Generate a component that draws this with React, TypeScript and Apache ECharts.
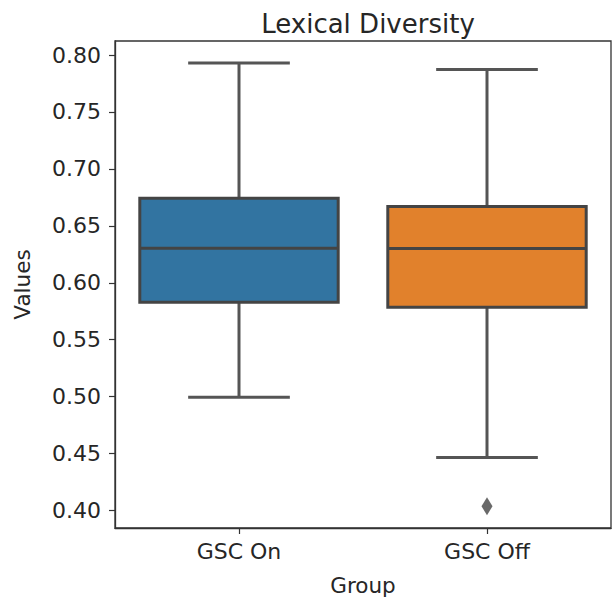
import React, { useEffect, useRef } from "react";
import * as echarts from "echarts";

const categories = ["GSC On", "GSC Off"];
// [whiskerLow, q1, median, q3, whiskerHigh]
const boxStats = [
  [0.4996, 0.5829, 0.6303, 0.6743, 0.793],
  [0.4466, 0.5785, 0.63, 0.6669, 0.7872],
];
const outliers = [["GSC Off", 0.4038]];
const yTicks = [0.4, 0.45, 0.5, 0.55, 0.6, 0.65, 0.7, 0.75, 0.8];
const boxColors = ["#3274a1", "#e1812c"];

const LINE = "#555555";
const FONT = "DejaVu Sans";

export default function App() {
  const ref = useRef<HTMLDivElement>(null);
  useEffect(() => {
    if (!ref.current) return;
    const chart = echarts.init(ref.current, undefined, { renderer: "svg" });
    chart.setOption({
      animation: false,
      title: {
        text: "Lexical Diversity",
        left: 363,
        top: 6,
        textAlign: "center",
        textStyle: { fontFamily: FONT, fontSize: 26, fontWeight: "normal", color: "#262626" },
      },
      grid: {
        left: 115,
        top: 41,
        right: 2,
        bottom: 73,
        show: true,
        borderColor: "#333",
        borderWidth: 1.3,
        backgroundColor: "transparent",
      },
      xAxis: {
        type: "category",
        data: categories,
        boundaryGap: true,
        name: "Group",
        nameLocation: "middle",
        nameGap: 46,
        nameTextStyle: { fontFamily: FONT, fontSize: 21.5, color: "#262626" },
        axisLine: { show: true, lineStyle: { color: "#333", width: 1.3 } },
        axisTick: { show: true, alignWithLabel: true, length: 6, lineStyle: { color: "#333", width: 1.2 } },
        axisLabel: { fontFamily: FONT, fontSize: 22, color: "#262626", margin: 12 },
        splitLine: { show: false },
      },
      yAxis: {
        type: "value",
        min: 0.3847,
        max: 0.8123,
        name: "Values",
        nameLocation: "middle",
        nameGap: 82,
        nameRotate: 90,
        nameTextStyle: { fontFamily: FONT, fontSize: 21.5, color: "#262626" },
        axisLine: { show: true, lineStyle: { color: "#333", width: 1.3 } },
        axisTick: { show: true, length: 6, customValues: yTicks, lineStyle: { color: "#333", width: 1.2 } },
        axisLabel: {
          fontFamily: FONT,
          fontSize: 22,
          color: "#262626",
          margin: 14,
          customValues: yTicks,
          formatter: (v: number) => v.toFixed(2),
        },
        splitLine: { show: false },
      },
      series: [
        {
          type: "custom",
          data: boxStats.map((s, i) => [i, ...s]),
          renderItem: (params: any, api: any) => {
            const idx = api.value(0);
            const band = api.size([1, 0])[0];
            const boxW = band * 0.8;
            const capW = band * 0.41;
            const pLow = api.coord([idx, api.value(1)]);
            const pQ1 = api.coord([idx, api.value(2)]);
            const pMed = api.coord([idx, api.value(3)]);
            const pQ3 = api.coord([idx, api.value(4)]);
            const pHigh = api.coord([idx, api.value(5)]);
            const cx = pMed[0];
            const ls = { stroke: LINE, lineWidth: 3 };
            return {
              type: "group",
              children: [
                { type: "line", shape: { x1: cx, y1: pQ3[1], x2: cx, y2: pHigh[1] }, style: ls },
                { type: "line", shape: { x1: cx, y1: pQ1[1], x2: cx, y2: pLow[1] }, style: ls },
                { type: "line", shape: { x1: cx - capW / 2, y1: pHigh[1], x2: cx + capW / 2, y2: pHigh[1] }, style: ls },
                { type: "line", shape: { x1: cx - capW / 2, y1: pLow[1], x2: cx + capW / 2, y2: pLow[1] }, style: ls },
                {
                  type: "rect",
                  shape: { x: cx - boxW / 2, y: pQ3[1], width: boxW, height: pQ1[1] - pQ3[1] },
                  style: { fill: boxColors[idx], stroke: "#444", lineWidth: 3 },
                },
                { type: "line", shape: { x1: cx - boxW / 2, y1: pMed[1], x2: cx + boxW / 2, y2: pMed[1] }, style: { stroke: "#444", lineWidth: 3 } },
              ],
            };
          },
          z: 2,
        },
        {
          type: "scatter",
          data: outliers,
          symbol: "diamond",
          symbolSize: [11, 18],
          itemStyle: { color: "#444" },
          z: 3,
        },
      ],
    });
    return () => chart.dispose();
  }, []);
  return (
    <div
      ref={ref}
      style={{ position: "absolute", left: 0, top: 0, width: 613, height: 601 }}
    />
  );
}
